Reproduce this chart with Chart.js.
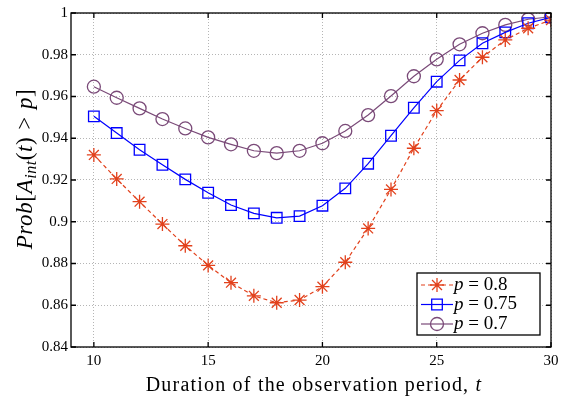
<!DOCTYPE html>
<html>
<head>
<meta charset="utf-8">
<script src="https://cdn.jsdelivr.net/npm/chart.js@4.4.1/dist/chart.umd.min.js"></script>
<style>
  html, body { margin: 0; padding: 0; background: #fff; }
  #wrap { width: 567px; height: 403px; }
</style>
</head>
<body>
<div id="wrap"><canvas id="probChart" width="567" height="403"></canvas></div>
<script>
// data
const durations = [10, 11, 12, 13, 14, 15, 16, 17, 18, 19, 20, 21, 22, 23, 24, 25, 26, 27, 28, 29, 30];
const prob08  = [0.932, 0.9205, 0.9096, 0.8989, 0.8885, 0.8791, 0.8708, 0.8645, 0.8612, 0.8625, 0.8689,
                 0.8806, 0.8968, 0.9155, 0.9352, 0.9532, 0.9679, 0.9788, 0.9871, 0.9927, 0.9966];
const prob075 = [0.9505, 0.9425, 0.9345, 0.9273, 0.9203, 0.9139, 0.908, 0.904, 0.9019, 0.9027, 0.9077,
                 0.916, 0.9278, 0.9412, 0.9546, 0.9671, 0.9773, 0.9855, 0.9907, 0.9951, 0.9979];
const prob07  = [0.9647, 0.9594, 0.9543, 0.9492, 0.9447, 0.9404, 0.9371, 0.934, 0.9329, 0.934, 0.9376,
                 0.9435, 0.9511, 0.9602, 0.9697, 0.9778, 0.985, 0.9903, 0.9943, 0.997, 0.9982];
const seriesLabels = ['0.8', '0.75', '0.7'];
const xTicks = [10, 15, 20, 25, 30];
const yTicks = [0.84, 0.86, 0.88, 0.9, 0.92, 0.94, 0.96, 0.98, 1];

const SERIF = '"Liberation Serif", "DejaVu Serif", serif';
const RED = '#e2411c';
const BLUE = '#0000ff';
const PURPLE = '#7a4a78';

function toPoints(ys) {
    return durations.map((x, i) => ({ x: x, y: ys[i] }));
}

// marker drawing for the legend
function drawMarker(ctx, style, x, y, r, color) {
    ctx.save();
    ctx.strokeStyle = color;
    ctx.lineWidth = 1.3;
    ctx.beginPath();
    if (style === 'circle') {
        ctx.arc(x, y, r, 0, Math.PI * 2);
    } else if (style === 'rect') {
        const s = r * Math.SQRT1_2;
        ctx.rect(x - s, y - s, 2 * s, 2 * s);
    } else if (style === 'star') {
        for (let k = 0; k < 4; k++) {
            const a = k * Math.PI / 4;
            ctx.moveTo(x - Math.cos(a) * r, y - Math.sin(a) * r);
            ctx.lineTo(x + Math.cos(a) * r, y + Math.sin(a) * r);
        }
    }
    ctx.stroke();
    ctx.restore();
}

// frame, inward ticks, axis titles and the legend box
const decorPlugin = {
    id: 'decor',
    afterDraw(chart) {
        const ctx = chart.ctx;
        const a = chart.chartArea;
        const xs = chart.scales.x;
        const ys = chart.scales.y;
        ctx.save();
        ctx.strokeStyle = '#000';
        ctx.lineWidth = 1.3;
        ctx.strokeRect(a.left, a.top, a.right - a.left, a.bottom - a.top);
        ctx.beginPath();
        xTicks.forEach(v => {
            const px = xs.getPixelForValue(v);
            ctx.moveTo(px, a.bottom); ctx.lineTo(px, a.bottom - 5);
            ctx.moveTo(px, a.top); ctx.lineTo(px, a.top + 5);
        });
        yTicks.forEach(v => {
            const py = ys.getPixelForValue(v);
            ctx.moveTo(a.left, py); ctx.lineTo(a.left + 5, py);
            ctx.moveTo(a.right, py); ctx.lineTo(a.right - 5, py);
        });
        ctx.stroke();

        // x title
        ctx.fillStyle = '#000';
        ctx.textBaseline = 'alphabetic';
        ctx.letterSpacing = '1.2px';
        const xt1 = 'Duration of the observation period, ';
        ctx.font = '20px ' + SERIF;
        const w1 = ctx.measureText(xt1).width;
        ctx.font = 'italic 20px ' + SERIF;
        const w2 = ctx.measureText('t').width;
        let sx = 314 - (w1 + w2) / 2;
        ctx.font = '20px ' + SERIF;
        ctx.fillText(xt1, sx, 391);
        ctx.font = 'italic 20px ' + SERIF;
        ctx.fillText('t', sx + w1, 391);

        // y title with subscript
        ctx.save();
        ctx.letterSpacing = '0.6px';
        ctx.translate(25, 169);
        ctx.rotate(-Math.PI / 2);
        const parts = [
            { t: 'Prob', f: 'italic 23px ' + SERIF, dy: 0, gap: 0 },
            { t: '[', f: '23px ' + SERIF, dy: 0, gap: 0 },
            { t: 'A', f: 'italic 23px ' + SERIF, dy: 0, gap: 0 },
            { t: 'int', f: 'italic 16px ' + SERIF, dy: 4, gap: 0 },
            { t: '(', f: '23px ' + SERIF, dy: 0, gap: 0 },
            { t: 't', f: 'italic 23px ' + SERIF, dy: 0, gap: 0 },
            { t: ')', f: '23px ' + SERIF, dy: 0, gap: 7 },
            { t: '>', f: '23px ' + SERIF, dy: 0, gap: 7 },
            { t: 'p', f: 'italic 23px ' + SERIF, dy: 0, gap: 0 },
            { t: ']', f: '23px ' + SERIF, dy: 0, gap: 0 }
        ];
        let total = 0;
        parts.forEach(p => { ctx.font = p.f; p.w = ctx.measureText(p.t).width; total += p.w + p.gap; });
        let cx = -total / 2;
        parts.forEach(p => { ctx.font = p.f; ctx.fillText(p.t, cx, 7 + p.dy); cx += p.w + p.gap; });
        ctx.restore();
        ctx.letterSpacing = '0px';

        // legend
        const lx = a.right - 134, ly = a.bottom - 74, lw = 123, lh = 62;
        ctx.fillStyle = '#fff';
        ctx.fillRect(lx, ly, lw, lh);
        ctx.strokeStyle = '#000';
        ctx.lineWidth = 1.3;
        ctx.strokeRect(lx, ly, lw, lh);
        chart.data.datasets.forEach((ds, i) => {
            const rowY = ly + 12 + i * 19.5;
            ctx.save();
            ctx.strokeStyle = ds.borderColor;
            ctx.lineWidth = ds.borderWidth;
            ctx.setLineDash(ds.borderDash || []);
            ctx.beginPath();
            ctx.moveTo(lx + 4, rowY); ctx.lineTo(lx + 36, rowY);
            ctx.stroke();
            ctx.restore();
            drawMarker(ctx, ds.pointStyle, lx + 20, rowY, ds.pointRadius, ds.borderColor);
            ctx.fillStyle = '#000';
            ctx.textBaseline = 'middle';
            ctx.font = 'italic 19px ' + SERIF;
            ctx.fillText('p', lx + 37, rowY);
            const pw = ctx.measureText('p').width;
            ctx.font = '19px ' + SERIF;
            ctx.fillText(' = ' + seriesLabels[i], lx + 37 + pw, rowY);
        });
        ctx.restore();
    }
};

const ctx = document.getElementById('probChart').getContext('2d');
new Chart(ctx, {
    type: 'line',
    data: {
        datasets: [
            {
                label: 'p = 0.8',
                data: toPoints(prob08),
                borderColor: RED,
                borderWidth: 1.2,
                borderDash: [4, 3],
                pointStyle: 'star',
                pointRadius: 7,
                pointBorderWidth: 1.3,
                pointBorderColor: RED,
                pointBackgroundColor: 'transparent',
                tension: 0
            },
            {
                label: 'p = 0.75',
                data: toPoints(prob075),
                borderColor: BLUE,
                borderWidth: 1.2,
                pointStyle: 'rect',
                pointRadius: 7.5,
                pointBorderWidth: 1.3,
                pointBorderColor: BLUE,
                pointBackgroundColor: 'transparent',
                tension: 0
            },
            {
                label: 'p = 0.7',
                data: toPoints(prob07),
                borderColor: PURPLE,
                borderWidth: 1.2,
                pointStyle: 'circle',
                pointRadius: 6.5,
                pointBorderWidth: 1.3,
                pointBorderColor: PURPLE,
                pointBackgroundColor: 'transparent',
                tension: 0
            }
        ]
    },
    options: {
        responsive: false,
        animation: false,
        layout: { padding: { top: 13, right: 16, left: 0, bottom: 0 } },
        plugins: {
            legend: { display: false },
            tooltip: { enabled: false }
        },
        scales: {
            x: {
                type: 'linear',
                min: 9,
                max: 30,
                afterBuildTicks: s => { s.ticks = xTicks.map(v => ({ value: v })); },
                afterFit: s => { s.height = 56; },
                grid: { color: '#b5b5b5', lineWidth: 1, drawTicks: false },
                border: { display: false, dash: [1, 2] },
                ticks: {
                    color: '#000',
                    padding: 5,
                    maxRotation: 0,
                    font: { family: SERIF, size: 15 }
                }
            },
            y: {
                type: 'linear',
                min: 0.84,
                max: 1,
                afterBuildTicks: s => { s.ticks = yTicks.map(v => ({ value: v })); },
                afterFit: s => { s.width = 71; },
                grid: { color: '#b5b5b5', lineWidth: 1, drawTicks: false },
                border: { display: false, dash: [1, 2] },
                ticks: {
                    color: '#000',
                    padding: 3,
                    font: { family: SERIF, size: 15 },
                    callback: v => String(+v.toFixed(2))
                }
            }
        }
    },
    plugins: [decorPlugin]
});
</script>
</body>
</html>
